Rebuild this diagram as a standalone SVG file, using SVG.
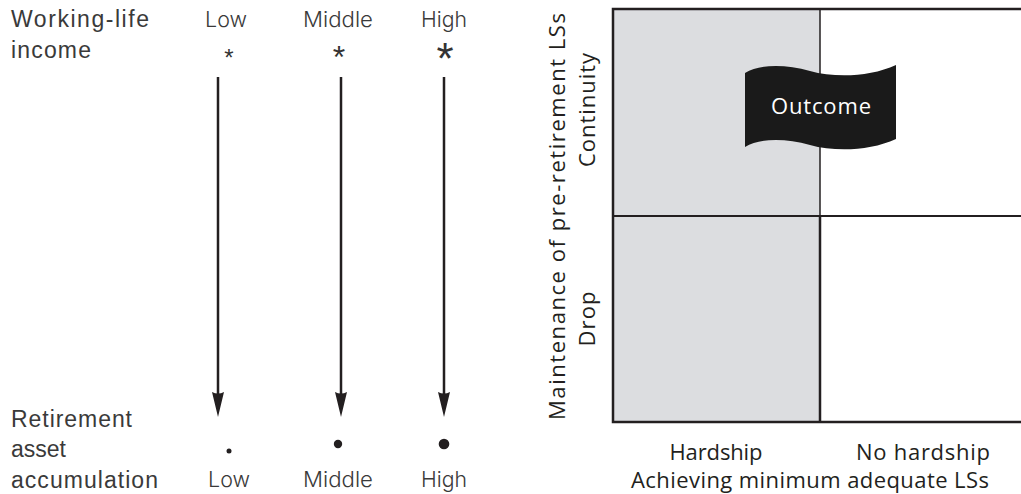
<svg xmlns="http://www.w3.org/2000/svg" width="1021" height="494" viewBox="0 0 1021 494">
  <style>
    .lbl { font-family: "Liberation Sans", Arial, sans-serif; font-size: 23px; fill: #3a3a3a; }
    .lvl { font-family: Inter, "Liberation Sans", Arial, sans-serif; font-size: 22px; font-weight: 300; }
    .ax { font-family: "Open Sans", "Liberation Sans", sans-serif; font-size: 22px; fill: #231f20; }
    .mid { text-anchor: middle; }
    .star { font-family: "Liberation Sans", Arial, sans-serif; fill: #333; text-anchor: middle; }
    .flow { stroke: #231f20; stroke-width: 2.5; fill: none; marker-end: url(#head); }
    .dot { fill: #231f20; }
    .frame { stroke: #231f20; fill: none; }
  </style>
  <defs>
    <marker id="head" markerUnits="userSpaceOnUse" markerWidth="40" markerHeight="20" refX="0" refY="0" orient="auto" overflow="visible">
      <path d="M12,0 L-13,-6 Q-10,0 -13,6 Z" fill="#231f20"/>
    </marker>
  </defs>

  <!-- left: income levels flowing into asset accumulation -->
  <g id="income-axis">
    <text class="lbl" x="11" y="27" textLength="138" lengthAdjust="spacing">Working-life</text>
    <text class="lbl" x="11" y="58" textLength="80" lengthAdjust="spacing">income</text>
  </g>
  <g id="income-low">
    <text class="lbl lvl mid" x="226" y="27" textLength="42" lengthAdjust="spacingAndGlyphs">Low</text>
    <text class="star" x="229" y="66" font-size="24">*</text>
  </g>
  <g id="income-middle">
    <text class="lbl lvl mid" x="338" y="27" textLength="70" lengthAdjust="spacingAndGlyphs">Middle</text>
    <text class="star" x="339" y="68" font-size="32">*</text>
  </g>
  <g id="income-high">
    <text class="lbl lvl mid" x="444" y="27" textLength="46" lengthAdjust="spacingAndGlyphs">High</text>
    <text class="star" x="445" y="74" font-size="44">*</text>
  </g>

  <g id="connectors">
    <line class="flow" x1="218" y1="77" x2="218" y2="405"/>
    <line class="flow" x1="341" y1="77" x2="341" y2="405"/>
    <line class="flow" x1="444" y1="77" x2="444" y2="405"/>
  </g>

  <g id="asset-axis">
    <text class="lbl" x="11" y="427" textLength="121" lengthAdjust="spacing">Retirement</text>
    <text class="lbl" x="11" y="457">asset</text>
    <text class="lbl" x="11" y="488" textLength="147" lengthAdjust="spacing">accumulation</text>
  </g>
  <g id="asset-low">
    <circle class="dot" cx="229" cy="451" r="2.5"/>
    <text class="lbl lvl mid" x="229" y="487" textLength="42" lengthAdjust="spacingAndGlyphs">Low</text>
  </g>
  <g id="asset-middle">
    <circle class="dot" cx="338" cy="444" r="4.2"/>
    <text class="lbl lvl mid" x="338" y="487" textLength="70" lengthAdjust="spacingAndGlyphs">Middle</text>
  </g>
  <g id="asset-high">
    <circle class="dot" cx="444" cy="444" r="5.3"/>
    <text class="lbl lvl mid" x="444" y="487" textLength="46" lengthAdjust="spacingAndGlyphs">High</text>
  </g>

  <!-- right: outcome matrix -->
  <g id="matrix">
    <rect x="613" y="9" width="207" height="413" fill="#dcdde0"/>
    <line class="frame" x1="820" y1="9" x2="820" y2="216" stroke-width="1.5" stroke="#555"/>
    <line class="frame" x1="820" y1="216" x2="820" y2="422" stroke-width="2.5"/>
    <line class="frame" x1="613" y1="216" x2="1021" y2="216" stroke-width="2.2"/>
    <rect class="frame" x="613" y="9" width="420" height="413" stroke-width="2.5"/>
  </g>

  <g id="outcome">
    <path d="M745,73 C760,64 785,64 810,71 C835,78 870,77 896,65 L896,139 C870,151 835,152 810,145 C785,138 760,138 745,147 Z" fill="#1a1a1a"/>
    <text class="ax mid" x="821" y="114" style="fill:#fff" textLength="100" lengthAdjust="spacing">Outcome</text>
  </g>

  <g id="y-axis">
    <text class="ax mid" transform="translate(565,216.5) rotate(-90)" textLength="407" lengthAdjust="spacing">Maintenance of pre-retirement LSs</text>
    <text class="ax mid" transform="translate(595,110) rotate(-90)" textLength="114" lengthAdjust="spacing">Continuity</text>
    <text class="ax mid" transform="translate(595,319) rotate(-90)" textLength="55" lengthAdjust="spacing">Drop</text>
  </g>

  <g id="x-axis">
    <text class="ax mid" x="716" y="460" textLength="93" lengthAdjust="spacing">Hardship</text>
    <text class="ax mid" x="923" y="460" textLength="134" lengthAdjust="spacing">No hardship</text>
    <text class="ax mid" x="810" y="488" textLength="358" lengthAdjust="spacing">Achieving minimum adequate LSs</text>
  </g>
</svg>
